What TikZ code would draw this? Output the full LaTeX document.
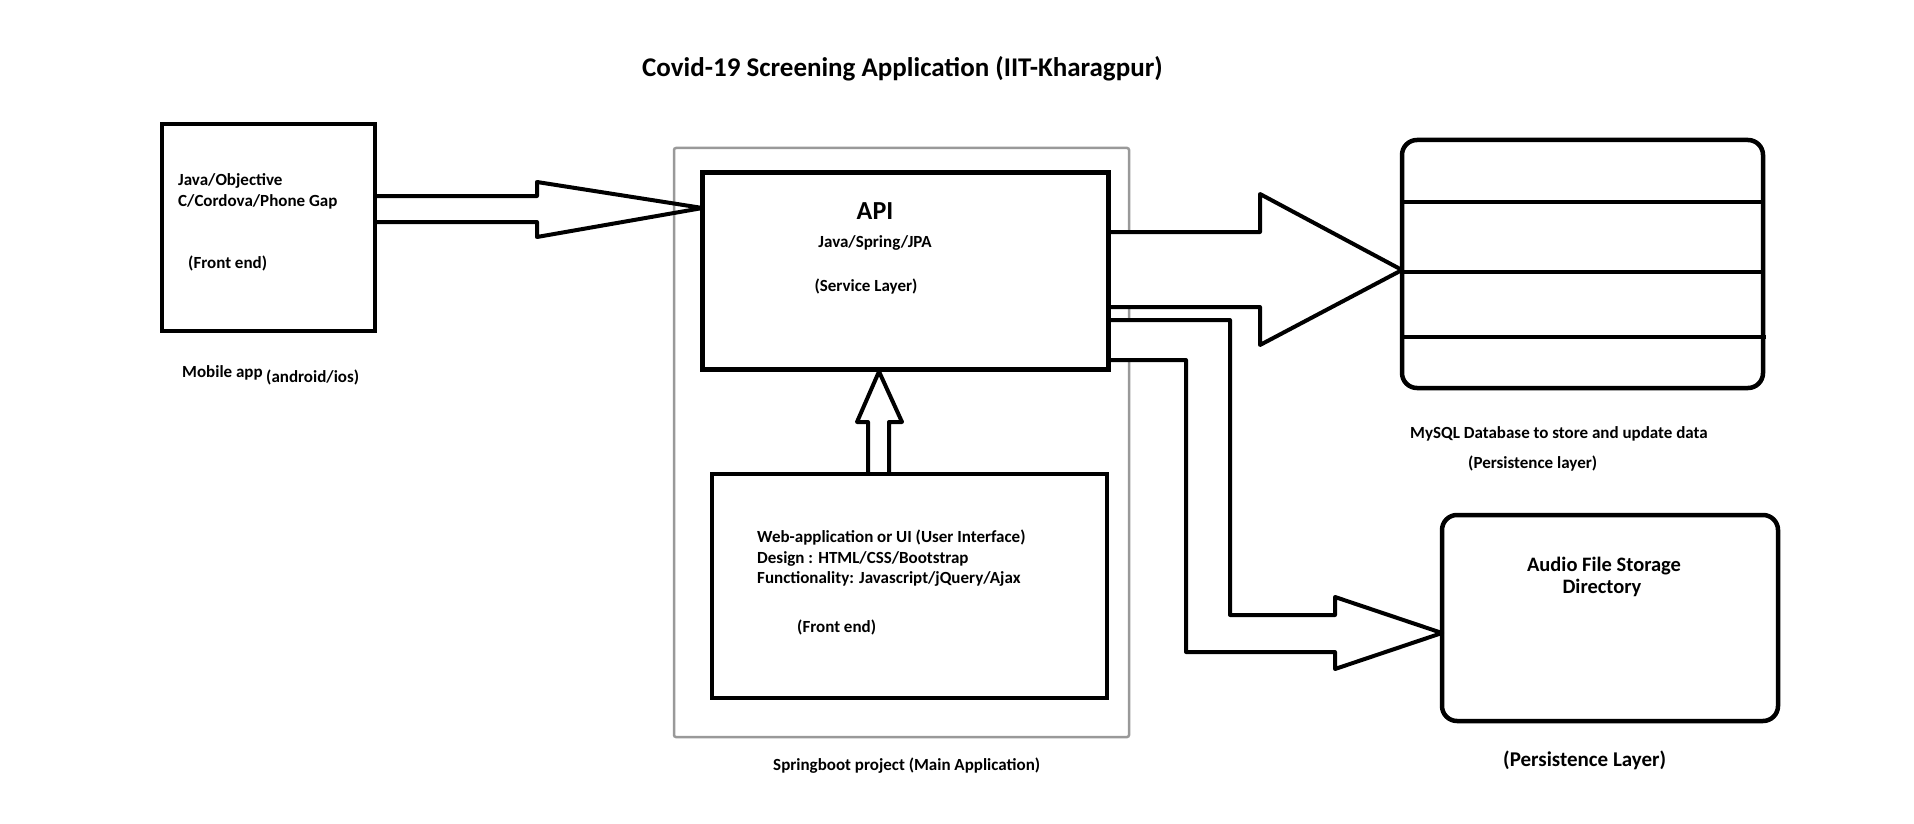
\documentclass[tikz,border=0pt]{standalone}
\usepackage{fontspec}
\setmainfont{Carlito}
\usetikzlibrary{calc}
\pgfdeclarelayer{back}
\pgfdeclarelayer{mid}
\pgfsetlayers{back,mid,main}
\newcommand{\fsz}[1]{\fontsize{#1}{1.2\dimexpr#1pt\relax}\selectfont\bfseries}
\begin{document}
\begin{tikzpicture}[x=1pt,y=-1pt,
  box/.style={draw, line width=4.5pt, inner sep=0pt, outer sep=0pt},
  rbox/.style={box, rounded corners=15pt},
  sbox/.style={draw=gray!80, line width=2.5pt, inner sep=0pt, outer sep=0pt, rounded corners=2pt},
  arr/.style={draw, line width=4pt, line join=round},
  arrf/.style={arr, fill=white},
  dbline/.style={line width=4pt},
  txt/.style={inner sep=0pt, anchor=base west, font=\fsz{17}},
  ctxt/.style={inner sep=0pt, anchor=base, font=\fsz{17}}]
\useasboundingbox (0,0) rectangle (1914,824);

% boxes
\node[box, minimum width=213pt, minimum height=207pt] (mob) at (268.5,227.5) {};
\node[box, minimum width=406pt, minimum height=197pt] (api) at (905.5,271) {};
\node[box, minimum width=395pt, minimum height=224pt] (web) at (909.5,586) {};
\node[rbox, minimum width=361pt, minimum height=248pt] (db) at (1582.5,264) {};
\node[rbox, minimum width=336pt, minimum height=206pt] (aud) at (1610,618) {};
\begin{pgfonlayer}{back}
\node[sbox, minimum width=455pt, minimum height=589pt] (sb) at (901.5,442.5) {};
\end{pgfonlayer}

% database rows
\draw[dbline] (db.west |- 0,202) coordinate (r1a) -- (db.east |- r1a);
\draw[dbline] (db.west |- 0,272) coordinate (r2a) -- (db.east |- r2a);
\draw[dbline] (db.west |- 0,337) coordinate (r3a) -- ($(db.east |- r3a)+(3,0)$);

% arrows
\begin{pgfonlayer}{mid}
\draw[arr] ($(mob.east)+(0,-31.5)$) -- (537,196) -- (537,182) -- ($(api.west)+(0,-63)$)
  -- (537,237) -- (537,222) -- ($(mob.east)+(0,-5.5)$);
\draw[arrf] ($(api.east)+(0,-39)$) -- (1260,232) -- (1260,194) -- ($(db.west)+(0,6)$)
  -- (1260,345) -- (1260,307) -- ($(api.east)+(0,36)$);
\draw[arrf] ($(api.east)+(0,49)$) -- (1230,320) -- (1230,615) -- (1335,615) -- (1335,597)
  -- ($(aud.west)+(0,15)$) -- (1335,669) -- (1335,652) -- (1186,652) -- (1186,360)
  -- ($(api.east)+(0,89)$);
\draw[arrf] ($(web.north)+(-41.5,0)$) -- (868,422) -- (857,422) -- ($(api.south)+(-26.5,2)$)
  -- (902,422) -- (889,422) -- ($(web.north)+(-20.5,0)$);
\end{pgfonlayer}

% texts
\node[txt, font=\fsz{27}] (title) at (642,77) {Covid-19 Screening Application (IIT-Kharagpur)};

\node[txt] (m1) at (178,185) {Java/Objective};
\node[txt] (m2) at (178,206) {C/Cordova/Phone Gap};
\node[txt] (m3) at (188,268) {(Front end)};
\node[txt] (m4) at (182,377) {Mobile app};
\node[txt] (m5) at (266,382) {(android/ios)};

\node[ctxt, font=\fsz{26}] (a1) at (875,219) {API};
\node[ctxt] (a2) at (875,247) {Java/Spring/JPA};
\node[ctxt] (a3) at (866,291) {(Service Layer)};

\node[txt] (w1) at (757,542) {Web-application or UI (User Interface)};
\node[txt] (w2) at (757,563) {Design : HTML/CSS/Bootstrap};
\node[txt] (w3) at (757,583) {Functionality: Javascript/jQuery/Ajax};
\node[txt] (w4) at (797,632) {(Front end)};

\node[txt] (s1) at (773,770) {Springboot project (Main Application)};

\node[txt] (d1) at (1410,438) {MySQL Database to store and update data};
\node[txt] (d2) at (1468,468) {(Persistence layer)};

\node[ctxt, font=\fsz{20.5}] (f1) at (1604,571) {Audio File Storage};
\node[ctxt, font=\fsz{20.5}] (f2) at (1602,593) {Directory};
\node[txt, font=\fsz{21}] (f3) at (1503,766) {(Persistence Layer)};
\end{tikzpicture}
\end{document}
